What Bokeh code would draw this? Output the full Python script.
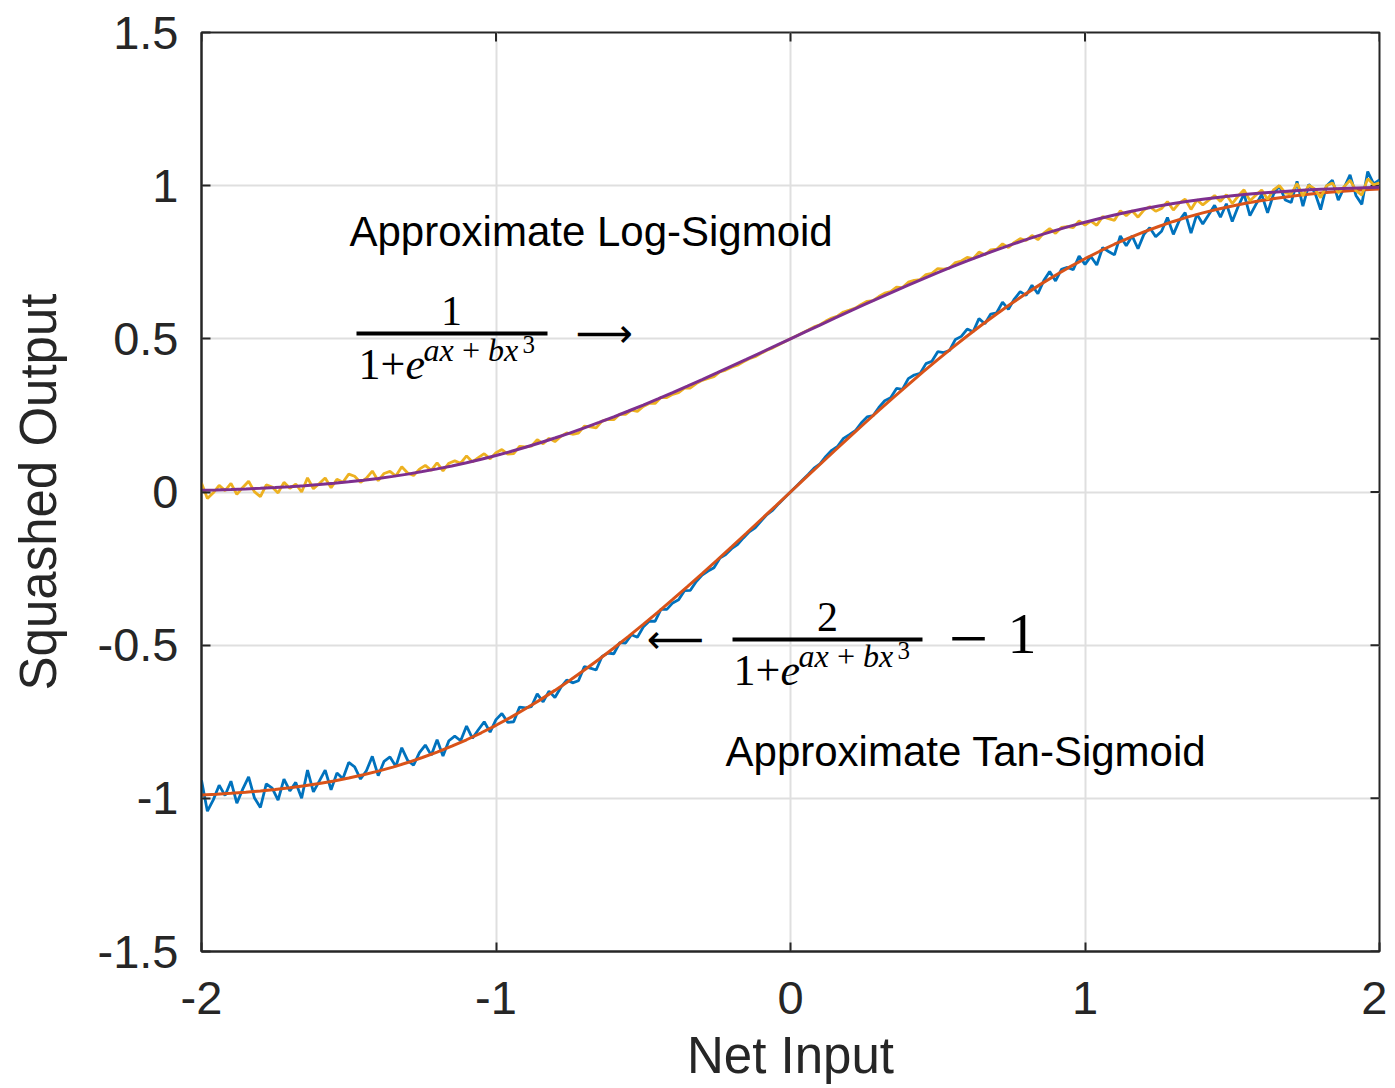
import numpy as np
from bokeh.plotting import figure
from bokeh.models import Range1d, FixedTicker, Label, BoxAnnotation
from bokeh.embed import file_html
from bokeh.resources import INLINE

# ---------------- data ----------------
x_noisy = np.round(np.linspace(-2, 2, 201), 2)
x_fit = np.round(np.linspace(-2, 2, 81), 2)

tan_noisy = [
    -0.941, -1.042, -1.005, -0.957, -0.991, -0.944, -1.016, -0.970, -0.930, -0.999,
    -1.030, -0.953, -0.967, -1.006, -0.937, -0.976, -0.948, -1.000, -0.908, -0.979,
    -0.944, -0.908, -0.972, -0.917, -0.936, -0.883, -0.897, -0.937, -0.910, -0.863,
    -0.926, -0.879, -0.865, -0.896, -0.835, -0.876, -0.892, -0.851, -0.826, -0.859,
    -0.809, -0.862, -0.812, -0.797, -0.812, -0.764, -0.804, -0.776, -0.750, -0.784,
    -0.743, -0.723, -0.752, -0.750, -0.702, -0.705, -0.701, -0.659, -0.685, -0.650,
    -0.671, -0.638, -0.614, -0.623, -0.616, -0.570, -0.575, -0.581, -0.537, -0.526,
    -0.528, -0.492, -0.493, -0.466, -0.474, -0.441, -0.422, -0.422, -0.383, -0.383,
    -0.362, -0.352, -0.322, -0.321, -0.292, -0.271, -0.258, -0.247, -0.216, -0.204,
    -0.185, -0.172, -0.150, -0.130, -0.117, -0.095, -0.074, -0.059, -0.038, -0.019,
    0.000,
    0.019, 0.038, 0.057, 0.078, 0.092, 0.116, 0.136, 0.149, 0.175, 0.187,
    0.200, 0.225, 0.245, 0.249, 0.276, 0.298, 0.308, 0.338, 0.335, 0.370,
    0.382, 0.387, 0.419, 0.427, 0.458, 0.455, 0.462, 0.498, 0.508, 0.532,
    0.523, 0.566, 0.549, 0.581, 0.585, 0.620, 0.596, 0.630, 0.654, 0.642,
    0.675, 0.647, 0.690, 0.720, 0.689, 0.727, 0.733, 0.726, 0.770, 0.743,
    0.769, 0.741, 0.798, 0.785, 0.774, 0.836, 0.804, 0.836, 0.794, 0.841,
    0.863, 0.833, 0.851, 0.896, 0.841, 0.886, 0.912, 0.845, 0.907, 0.875,
    0.905, 0.936, 0.897, 0.941, 0.883, 0.932, 0.973, 0.902, 0.938, 0.971,
    0.911, 0.972, 1.000, 0.953, 0.945, 1.014, 0.933, 1.004, 0.979, 0.922,
    0.999, 1.018, 0.953, 0.994, 1.035, 0.968, 0.939, 1.046, 1.006, 1.019,
]

log_noisy = [
    0.0295, -0.0210, -0.0025, 0.0215, 0.0045, 0.0280, -0.0080, 0.0150, 0.0350, 0.0005,
    -0.0150, 0.0235, 0.0165, -0.0030, 0.0315, 0.0120, 0.0260, 0.0000, 0.0460, 0.0105,
    0.0280, 0.0460, 0.0140, 0.0415, 0.0320, 0.0585, 0.0515, 0.0315, 0.0450, 0.0685,
    0.0370, 0.0605, 0.0675, 0.0520, 0.0825, 0.0620, 0.0540, 0.0745, 0.0870, 0.0705,
    0.0955, 0.0690, 0.0940, 0.1015, 0.0940, 0.1180, 0.0980, 0.1120, 0.1250, 0.1080,
    0.1285, 0.1385, 0.1240, 0.1250, 0.1490, 0.1475, 0.1495, 0.1705, 0.1575, 0.1750,
    0.1645, 0.1810, 0.1930, 0.1885, 0.1920, 0.2150, 0.2125, 0.2095, 0.2315, 0.2370,
    0.2360, 0.2540, 0.2535, 0.2670, 0.2630, 0.2795, 0.2890, 0.2890, 0.3085, 0.3085,
    0.3190, 0.3240, 0.3390, 0.3395, 0.3540, 0.3645, 0.3710, 0.3765, 0.3920, 0.3980,
    0.4075, 0.4140, 0.4250, 0.4350, 0.4415, 0.4525, 0.4630, 0.4705, 0.4810, 0.4905,
    0.5000,
    0.5095, 0.5190, 0.5285, 0.5390, 0.5460, 0.5580, 0.5680, 0.5745, 0.5875, 0.5935,
    0.6000, 0.6125, 0.6225, 0.6245, 0.6380, 0.6490, 0.6540, 0.6690, 0.6675, 0.6850,
    0.6910, 0.6935, 0.7095, 0.7135, 0.7290, 0.7275, 0.7310, 0.7490, 0.7540, 0.7660,
    0.7615, 0.7830, 0.7745, 0.7905, 0.7925, 0.8100, 0.7980, 0.8150, 0.8270, 0.8210,
    0.8375, 0.8235, 0.8450, 0.8600, 0.8445, 0.8635, 0.8665, 0.8630, 0.8850, 0.8715,
    0.8845, 0.8705, 0.8990, 0.8925, 0.8870, 0.9180, 0.9020, 0.9180, 0.8970, 0.9205,
    0.9315, 0.9165, 0.9255, 0.9480, 0.9205, 0.9430, 0.9560, 0.9225, 0.9535, 0.9375,
    0.9525, 0.9680, 0.9485, 0.9705, 0.9415, 0.9660, 0.9865, 0.9510, 0.9690, 0.9855,
    0.9555, 0.9860, 1.0000, 0.9765, 0.9725, 1.0070, 0.9665, 1.0020, 0.9895, 0.9610,
    0.9995, 1.0090, 0.9765, 0.9970, 1.0175, 0.9840, 0.9695, 1.0230, 1.0030, 1.0095,
]

log_fit = [
    0.0055, 0.0067, 0.0082, 0.0100, 0.0120, 0.0145, 0.0172, 0.0205, 0.0242, 0.0283,
    0.0331, 0.0384, 0.0444, 0.0510, 0.0584, 0.0666, 0.0755, 0.0851, 0.0956, 0.1070,
    0.1192, 0.1322, 0.1461, 0.1607, 0.1762, 0.1924, 0.2094, 0.2271, 0.2454, 0.2644,
    0.2839, 0.3040, 0.3246, 0.3456, 0.3669, 0.3886, 0.4106, 0.4327, 0.4551, 0.4775,
    0.5000,
    0.5225, 0.5449, 0.5673, 0.5894, 0.6114, 0.6331, 0.6544, 0.6754, 0.6960, 0.7161,
    0.7356, 0.7546, 0.7729, 0.7906, 0.8076, 0.8238, 0.8393, 0.8539, 0.8678, 0.8808,
    0.8930, 0.9044, 0.9149, 0.9245, 0.9334, 0.9416, 0.9490, 0.9556, 0.9616, 0.9669,
    0.9717, 0.9758, 0.9795, 0.9828, 0.9855, 0.9880, 0.9900, 0.9918, 0.9933, 0.9945,
]

tan_fit = [
    -0.9890, -0.9866, -0.9836, -0.9800, -0.9760, -0.9710, -0.9656, -0.9590, -0.9516, -0.9434,
    -0.9338, -0.9232, -0.9112, -0.8980, -0.8832, -0.8668, -0.8490, -0.8298, -0.8088, -0.7860,
    -0.7616, -0.7356, -0.7078, -0.6786, -0.6476, -0.6152, -0.5812, -0.5458, -0.5092, -0.4712,
    -0.4322, -0.3920, -0.3508, -0.3088, -0.2662, -0.2228, -0.1788, -0.1346, -0.0898, -0.0450,
    0.0000,
    0.0450, 0.0898, 0.1346, 0.1788, 0.2228, 0.2662, 0.3088, 0.3508, 0.3920, 0.4322,
    0.4712, 0.5092, 0.5458, 0.5812, 0.6152, 0.6476, 0.6786, 0.7078, 0.7356, 0.7616,
    0.7860, 0.8088, 0.8298, 0.8490, 0.8668, 0.8832, 0.8980, 0.9112, 0.9232, 0.9338,
    0.9434, 0.9516, 0.9590, 0.9656, 0.9710, 0.9760, 0.9800, 0.9836, 0.9866, 0.9890,
]

x_ticks = [-2, -1, 0, 1, 2]
x_tick_labels = ["-2", "-1", "0", "1", "2"]
y_ticks = [-1.5, -1, -0.5, 0, 0.5, 1, 1.5]
y_tick_labels = ["-1.5", "-1", "-0.5", "0", "0.5", "1", "1.5"]

# ---------------- figure ----------------
AX = "#262626"
SANS = "Liberation Sans"
SERIF = "Liberation Serif"
FRAME_W, FRAME_H = 1178, 919
X0, X1, Y0, Y1 = -2, 2, -1.5, 1.5

p = figure(width=1387, height=1088,
           x_range=Range1d(X0, X1), y_range=Range1d(Y0, Y1),
           output_backend="svg", toolbar_location=None,
           min_border_left=201, min_border_right=8,
           min_border_top=32, min_border_bottom=137)
p.background_fill_color = "white"
p.border_fill_color = "white"
p.outline_line_color = AX
p.outline_line_width = 2

for ax, ticks, labels in ((p.xaxis[0], x_ticks, x_tick_labels), (p.yaxis[0], y_ticks, y_tick_labels)):
    ax.ticker = FixedTicker(ticks=ticks)
    ax.major_label_overrides = {t: l for t, l in zip(ticks, labels)}
    ax.major_label_text_font = SANS
    ax.major_label_text_font_size = "47px"
    ax.major_label_text_color = AX
    ax.major_tick_in = 9
    ax.major_tick_out = 0
    ax.minor_tick_line_color = None
    ax.major_tick_line_color = AX
    ax.major_tick_line_width = 2
    ax.axis_line_color = AX
    ax.axis_line_width = 2
    ax.axis_label_text_font = SANS
    ax.axis_label_text_font_size = "51px"
    ax.axis_label_text_font_style = "normal"
    ax.axis_label_text_color = AX

p.xaxis.axis_label = "Net Input"
p.yaxis.axis_label = "Squashed Output"
p.xaxis.major_label_standoff = 30
p.xaxis.axis_label_standoff = 10
p.yaxis.major_label_standoff = 23
p.yaxis.axis_label_standoff = 28

p.xgrid.ticker = FixedTicker(ticks=x_ticks)
p.ygrid.ticker = FixedTicker(ticks=y_ticks)
for g in (p.xgrid[0], p.ygrid[0]):
    g.grid_line_color = "#dfdfdf"
    g.grid_line_width = 2

# inward tick marks on the right and top edges of the box (9 px long)
tick_dx = 9 * (X1 - X0) / FRAME_W
tick_dy = 9 * (Y1 - Y0) / FRAME_H
p.segment(x0=[X1] * len(y_ticks), x1=[X1 - tick_dx] * len(y_ticks), y0=y_ticks, y1=y_ticks,
          line_color=AX, line_width=2)
p.segment(x0=x_ticks, x1=x_ticks, y0=[Y1] * len(x_ticks), y1=[Y1 - tick_dy] * len(x_ticks),
          line_color=AX, line_width=2)

# ---------------- series ----------------
p.line(x_noisy, tan_noisy, line_color="#0072BD", line_width=2.8)
p.line(x_fit, tan_fit, line_color="#D95319", line_width=3)
p.line(x_noisy, log_noisy, line_color="#EDB120", line_width=2.8)
p.line(x_fit, log_fit, line_color="#7E2F8E", line_width=3)

# ---------------- annotations ----------------
PX_PER_Y = FRAME_H / (Y1 - Y0)

def lab(x, y, text, font=SANS, size=42, style="normal", align="left", baseline="alphabetic"):
    # y is the wanted baseline; svg text is anchored at its middle, so lift it
    if baseline == "alphabetic":
        y = y + 0.35 * size / PX_PER_Y
        baseline = "middle"
    p.add_layout(Label(x=x, y=y, text=text, text_font=font, text_font_size=f"{size}px",
                       text_font_style=style, text_align=align, text_baseline=baseline,
                       text_color="black"))

lab(-1.4975, 0.8015, "Approximate Log-Sigmoid")
lab(-0.2207, -0.8962, "Approximate Tan-Sigmoid")

# fraction 1 : 1/(1+e^(ax+bx^3))  ->
lab(-1.1511, 0.5436, "1", font=SERIF, size=42, align="center")
p.add_layout(BoxAnnotation(left=-1.4737, right=-0.8251, top=0.524, bottom=0.511,
                           fill_color="black", fill_alpha=1, line_color=None))
lab(-1.4669, 0.3673, "1+", font=SERIF, size=44)
lab(-1.3073, 0.3673, "e", font=SERIF, size=44, style="italic")
lab(-1.2462, 0.4261, "ax\u2009+\u2009bx", font=SERIF, size=32, style="italic")
lab(-0.9100, 0.4520, "3", font=SERIF, size=25)
lab(-0.6316, 0.5175, "\u27F6", font="DejaVu Sans", size=40, align="center", baseline="middle")

# fraction 2 : <-  2/(1+e^(ax+bx^3)) - 1
lab(-0.3905, -0.4783, "\u27F5", font="DejaVu Sans", size=40, align="center", baseline="middle")
lab(0.1256, -0.4554, "2", font=SERIF, size=42, align="center")
p.add_layout(BoxAnnotation(left=-0.1969, right=0.4482, top=-0.475, bottom=-0.4881,
                           fill_color="black", fill_alpha=1, line_color=None))
lab(-0.1935, -0.6317, "1+", font=SERIF, size=44)
lab(-0.0340, -0.6317, "e", font=SERIF, size=44, style="italic")
lab(0.0272, -0.573, "ax\u2009+\u2009bx", font=SERIF, size=32, style="italic")
lab(0.3633, -0.5470, "3", font=SERIF, size=25)
lab(0.6044, -0.4783, "\u2212", font=SERIF, size=70, align="center", baseline="middle")
lab(0.7370, -0.5305, "1", font=SERIF, size=58)

open("out.html", "w").write(file_html(p, INLINE))
